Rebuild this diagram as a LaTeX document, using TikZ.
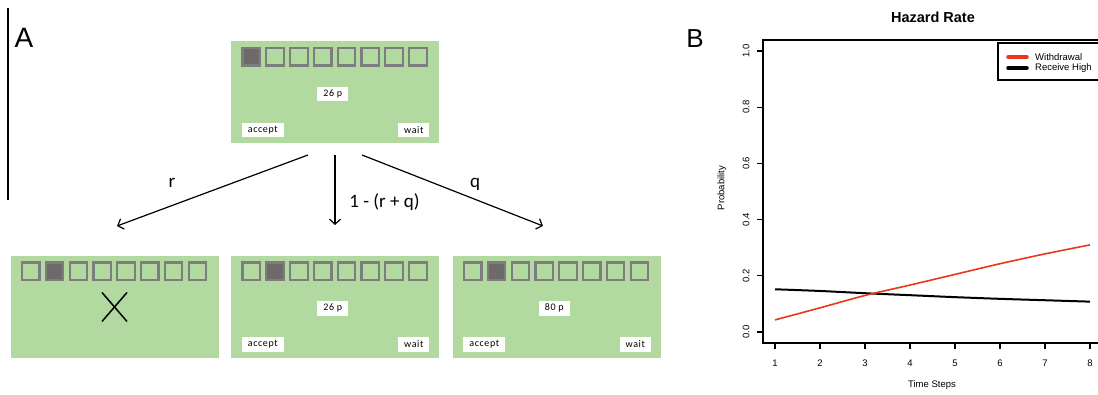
\documentclass[tikz,border=0pt]{standalone}
\usepackage{fontspec}
\setmainfont{Liberation Sans}
\newfontfamily\calfont{Carlito}
\newfontfamily\tagfont[LetterSpace=6]{Carlito}
\usetikzlibrary{arrows.meta}

\definecolor{boxgreen}{RGB}{178,218,160}
\definecolor{slotgray}{RGB}{125,125,125}
\definecolor{slotfill}{RGB}{110,106,106}
\definecolor{hazred}{RGB}{234,55,25}

\tikzset{
  screen/.style={fill=boxgreen, minimum width=208pt, minimum height=102pt, inner sep=0pt},
  slot/.style={draw=slotgray, line width=2.2pt, minimum size=17.5pt, inner sep=0pt},
  tag/.style={fill=white, font=\tagfont\fontsize{10}{11}\selectfont, minimum height=14.5pt, inner xsep=6pt, inner ysep=0pt},
  branch/.style={-{Straight Barb[length=5pt,width=11pt]}, line width=1.2pt},
  prob/.style={font=\calfont\fontsize{19}{21}\selectfont},
  axlab/.style={font=\fontsize{9.5}{11}\selectfont},
}

\newcommand\slotrow[2]{%
  \foreach \i in {1,...,8}
    \node[slot] (#1-\i) at ([xshift={20.5+(\i-1)*23.8}, yshift=-15.5]#1.north west) {};
  \node[slot, fill=slotfill] at (#1-#2) {};
}

\newcommand\offer[2]{%
  \node[tag] (#1-amount) at ([xshift=102, yshift=-52.5]#1.north west) {#2};
  \node[tag] (#1-accept) at ([xshift=32, yshift=-88.5]#1.north west) {accept};
  \node[tag] (#1-wait) at ([xshift=183, yshift=-88.5]#1.north west) {wait};
}

\begin{document}
\begin{tikzpicture}[x=1pt, y=1pt]
  \useasboundingbox (0,0) rectangle (1098,395);

  % panel A
  \draw[line width=1.1pt] (8,387) -- (8,195);
  \node[font=\fontsize{28}{30}\selectfont] (A) at (24,357) {A};

  \node[screen] (start) at (335,302.5) {};
  \slotrow{start}{1}
  \offer{start}{26 p}

  \node[screen] (lost) at (114.5,88) {};
  \node[screen] (same) at (335,88) {};
  \node[screen] (high) at (556.5,88) {};
  \slotrow{lost}{2}
  \slotrow{same}{2}
  \slotrow{high}{2}
  \offer{same}{26 p}
  \offer{high}{80 p}

  \draw[line width=1.5pt] ([shift={(-12.5,14.5)}]lost.center) -- ([shift={(12.5,-14.5)}]lost.center);
  \draw[line width=1.5pt] ([shift={(-12.5,-14.5)}]lost.center) -- ([shift={(12.5,14.5)}]lost.center);

  \coordinate (r-from) at (308,240);
  \coordinate (r-to) at (117,169);
  \coordinate (s-from) at (335,240);
  \coordinate (s-to) at (335,170);
  \coordinate (q-from) at (362,240);
  \coordinate (q-to) at (543,169);
  \draw[branch] (r-from) -- (r-to);
  \draw[branch] (s-from) -- (s-to);
  \draw[branch] (q-from) -- (q-to);
  \node[prob] (r-lbl) at (172,212) {r};
  \node[prob] (s-lbl) at (384.5,193) {1 - (r + q)};
  \node[prob] (q-lbl) at (475,211) {q};

  % panel B
  \node[font=\fontsize{26}{28}\selectfont] (B) at (695,356) {B};
  \node[font=\bfseries\fontsize{14.5}{16}\selectfont] (title) at (933,378) {Hazard Rate};
  \draw[line width=1.3pt] (1100,355) -- (763,355) -- (763,52) -- (1100,52);

  \begin{scope}[shift={(730,63)}, x=45pt, y=281pt]
    \foreach \v/\t in {0/0.0, 0.2/0.2, 0.4/0.4, 0.6/0.6, 0.8/0.8, 1/1.0} {
      \draw[line width=1.1pt] (0.7333,\v) -- ++(-6pt,0pt);
      \node[axlab, rotate=90] (ytick\t) at (0.3556,\v) {\t};
    }
    \foreach \t in {1,...,8} {
      \draw[line width=1.1pt] (\t,-0.0391) -- ++(0pt,-6pt);
      \node[axlab] (xtick\t) at (\t,-0.1103) {\t};
    }
    \draw[line width=2pt] plot[smooth] coordinates {(1,0.152) (2,0.146) (3,0.138) (4,0.131) (5,0.124) (6,0.118) (7,0.113) (8,0.108)};
    \draw[hazred, line width=1.6pt] plot[smooth] coordinates {(1,0.043) (2,0.086) (3,0.130) (4,0.167) (5,0.205) (6,0.243) (7,0.278) (8,0.310)};
  \end{scope}

  \node[axlab] (xlab) at (932,10) {Time Steps};
  \node[axlab, rotate=90] (ylab) at (722,207) {Probability};

  % legend
  \draw[line width=1.2pt] (1100,352) -- (998,352) -- (998,315) -- (1100,315);
  \draw[hazred, line width=3.5pt, line cap=round] (1008,338) -- (1027,338);
  \draw[line width=3.5pt, line cap=round] (1008,327) -- (1027,327);
  \node[axlab, anchor=west, inner sep=0pt] (leg-w) at (1035,338) {Withdrawal};
  \node[axlab, anchor=west, inner sep=0pt] (leg-r) at (1035,327) {Receive High};
\end{tikzpicture}
\end{document}
